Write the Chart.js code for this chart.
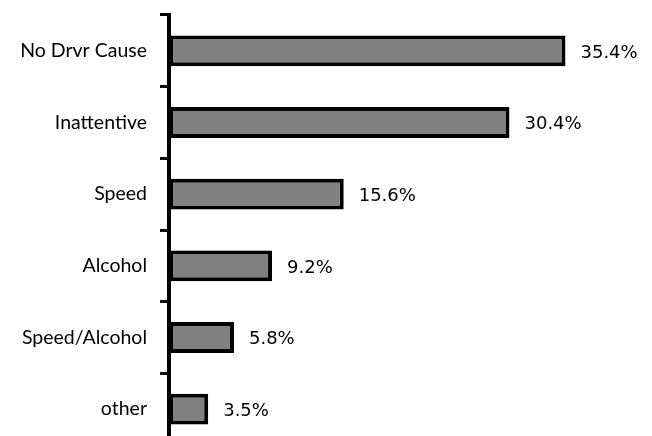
<html lang="en">
<head>
    <meta charset="UTF-8">
    <title>Causes</title>
    <script src="https://cdn.jsdelivr.net/npm/chart.js"></script>
    <style>
        body { margin: 0; overflow: hidden; background: #fff; }
    </style>
</head>
<body>
    <canvas id="myChart" width="652" height="446"></canvas>

    <script>
        // data
        let categories = ['No Drvr Cause', 'Inattentive', 'Speed', 'Alcohol', 'Speed/Alcohol', 'other'];
        let percents = [35.4, 30.4, 15.6, 9.2, 5.8, 3.5];

        // draws the value next to each bar
        let valueLabels = {
            id: 'valueLabels',
            afterDatasetsDraw(chart) {
                let ctx = chart.ctx;
                let meta = chart.getDatasetMeta(0);
                ctx.save();
                ctx.font = '18px "DejaVu Sans"';
                ctx.fillStyle = '#000';
                ctx.textAlign = 'left';
                ctx.textBaseline = 'middle';
                meta.data.forEach(function (bar, i) {
                    ctx.fillText(percents[i].toFixed(1) + '%', bar.x + 15, bar.y + 2);
                });
                ctx.restore();
            }
        };

        let ctx = document.getElementById("myChart").getContext("2d");
        let myChart = new Chart(ctx, {
            type: 'bar',
            data: {
                labels: categories,
                datasets: [{
                    data: percents,
                    backgroundColor: '#808080',
                    borderColor: '#000',
                    borderWidth: 4,
                    borderSkipped: false,
                    categoryPercentage: 1,
                    barPercentage: 0.43
                }]
            },
            options: {
                indexAxis: 'y',
                responsive: false,
                animation: false,
                layout: { padding: { top: 15, right: 35, bottom: 1, left: 0 } },
                plugins: {
                    legend: { display: false },
                    tooltip: { enabled: false }
                },
                scales: {
                    x: { display: false, min: 0, max: 40 },
                    y: {
                        afterFit: function (scale) {
                            scale.width = 169;
                            scale.paddingTop = 0;
                            scale.paddingBottom = 0;
                        },
                        border: { display: true, color: '#000', width: 4 },
                        grid: {
                            drawOnChartArea: false,
                            drawTicks: true,
                            tickLength: 9,
                            color: '#000',
                            lineWidth: 3
                        },
                        ticks: {
                            color: '#000',
                            padding: 13,
                            font: { family: 'Lato', size: 19.5 }
                        }
                    }
                }
            },
            plugins: [valueLabels]
        });
    </script>
</body>
</html>
